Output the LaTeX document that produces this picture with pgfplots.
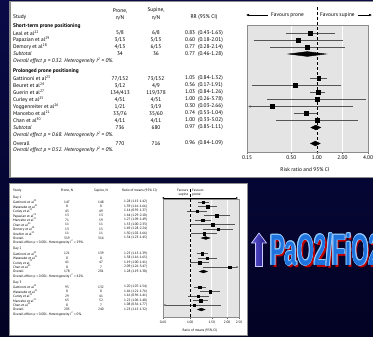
\documentclass[border=0pt]{standalone}
\usepackage{pgfplots}
\pgfplotsset{compat=1.18}
\usepackage{fontspec}
\setmainfont{PT Sans}
\newfontfamily\bigfont{Liberation Sans}
\usetikzlibrary{arrows.meta}
\definecolor{bgtop}{RGB}{10,10,72}
\definecolor{bgbot}{RGB}{3,3,36}
\definecolor{boxgray}{RGB}{228,228,228}
\definecolor{cigray}{RGB}{85,85,85}
\definecolor{txtblue}{RGB}{30,115,222}
\definecolor{txtedge}{RGB}{150,205,255}
\definecolor{txtred}{RGB}{190,0,0}
\definecolor{arrL}{RGB}{95,85,215}
\definecolor{arrR}{RGB}{30,25,130}
\newcommand\ft{\fontsize{5.4}{6}\selectfont}
\newcommand\fs{\fontsize{3.4}{4}\selectfont}
\newcommand\sups[1]{\textsuperscript{#1}}
\newcommand\bigtxt{\bigfont\bfseries\fontsize{44}{44}\selectfont}
\newcommand\trow[5]{\node[anchor=west] at (13,#1) {#2}; \node at (120,#1) {#3}; \node at (156,#1) {#4}; \node[anchor=west] at (185,#1) {#5};}
\newcommand\brow[5]{\node[anchor=west] at (13,#1) {#2}; \node at (67,#1) {#3}; \node at (101,#1) {#4}; \node[anchor=west] at (124,#1) {#5};}
\begin{document}
\begin{tikzpicture}[x=1bp,y=-1bp]
\useasboundingbox (0,0) rectangle (373,337);
\clip (0,0) rectangle (373,337);
\shade[top color=bgtop,bottom color=bgbot] (0,0) rectangle (373,337);
% panels
\draw[black!45, line width=1.6bp, fill=white] (9.8,1.3) rectangle (380,177.5);
\draw[black!45, line width=0.8bp, fill=white] (9.8,183.4) rectangle (247.5,335.6);

% ---------- top forest plot ----------
\begin{scope}[x=1cm,y=1cm]
\begin{axis}[scale only axis, xmode=log, y dir=reverse, ytick=\empty,
  axis line style={draw=black!45, line width=0.5bp},
  axis background/.style={fill=boxgray},
  xmajorgrids=true, major grid style={white, line width=0.6bp},
  tick align=outside, xtick pos=left, major tick length=2bp,
  tick style={black!60, line width=0.4bp}, clip=false,
  at={(247bp,-152bp)}, anchor=south west, width=121bp, height=127bp,
  xmin=0.15, xmax=4, ymin=25, ymax=152,
  xtick={0.15,0.5,1,2,4}, xticklabels={0.15,0.50,1.00,2.00,4.00},
  xticklabel style={font=\ft, inner sep=1.5bp}]
\addplot[cigray, line width=0.5bp, unbounded coords=jump] coordinates {
 (0.43,33) (1.63,33) (nan,nan)
 (0.18,40) (2.01,40) (nan,nan)
 (0.28,47) (2.14,47) (nan,nan)
 (0.84,78.5) (1.32,78.5) (nan,nan)
 (0.17,85.5) (1.91,85.5) (nan,nan)
 (0.84,92.5) (1.26,92.5) (nan,nan)
 (0.26,99.5) (3.78,99.5) (nan,nan)
 (0.53,113.5) (1.04,113.5) (nan,nan)
 (0.33,120.5) (3.02,120.5)};
\addplot[cigray, line width=0.5bp, -{Latex[length=2.5bp,width=2.6bp]}] coordinates {(2.66,106.5) (0.155,106.5)};
\addplot[only marks, mark=square*, mark size=1.9bp, black] coordinates {
 (0.83,33) (0.60,40) (0.77,47) (1.05,78.5) (0.56,85.5) (1.03,92.5) (1.00,99.5) (0.30,106.5) (0.74,113.5) (1.00,120.5)};
\addplot[fill=black, draw=black] coordinates {(0.46,54) (0.77,51.6) (1.28,54) (0.77,56.4)} -- cycle;
\addplot[fill=black, draw=black] coordinates {(0.85,127.5) (0.97,125.1) (1.11,127.5) (0.97,129.9)} -- cycle;
\addplot[fill=black, draw=black] coordinates {(0.84,143.5) (0.96,141.1) (1.09,143.5) (0.96,145.9)} -- cycle;
\end{axis}
\end{scope}
\draw[densely dashed, line width=0.45bp] (317,7) -- (317,152);
\draw[line width=0.45bp, -{Latex[length=3bp,width=2.6bp]}] (268,15) -- (246,15);
\draw[line width=0.45bp, -{Latex[length=3bp,width=2.6bp]}] (358,15) -- (372,15);

\begin{scope}[every node/.style={inner sep=0pt, font=\ft}]
\node[anchor=west] at (271,15) {Favours prone};
\node[anchor=west] at (320,15) {Favours supine};
\node at (305,170) {Risk ratio and 95\% CI};
\node[anchor=west] at (13,17.5) {Study};
\node at (120,10.5) {Prone,}; \node at (120,17.5) {n/N};
\node at (156,10.5) {Supine,}; \node at (156,17.5) {n/N};
\node at (204,17.5) {RR (95\% CI)};
\node[anchor=west, font=\ft\bfseries] at (13,26) {Short-term prone positioning};
\trow{33}{Leal et al\sups{22}}{5/8}{6/8}{0.83\ \ (0.43-1.63)}
\trow{40}{Papazian et al\sups{29}}{3/13}{5/13}{0.60\ \ (0.18-2.01)}
\trow{47}{Demory et al\sups{28}}{4/13}{6/15}{0.77\ \ (0.28-2.14)}
\trow{54}{\itshape Subtotal}{34}{36}{0.77\ \ (0.46-1.28)}
\node[anchor=west, font=\ft\itshape] at (13,61) {Overall effect p = 0.32. Heterogeneity I\sups{2} = 0\%.};
\node[anchor=west, font=\ft\bfseries] at (13,71.5) {Prolonged prone positioning};
\trow{78.5}{Gattinoni et al\sups{23}}{77/152}{73/152}{1.05\ \ (0.84-1.32)}
\trow{85.5}{Beuret et al\sups{24}}{3/12}{4/9}{0.56\ \ (0.17-1.91)}
\trow{92.5}{Guerin et al\sups{27}}{134/413}{119/378}{1.03\ \ (0.84-1.26)}
\trow{99.5}{Curley et al\sups{25}}{4/51}{4/51}{1.00\ \ (0.26-3.78)}
\trow{106.5}{Voggenreiter et al\sups{26}}{1/21}{3/19}{0.30\ \ (0.03-2.66)}
\trow{113.5}{Mancebo et al\sups{21}}{33/76}{35/60}{0.74\ \ (0.53-1.04)}
\trow{120.5}{Chan et al\sups{30}}{4/11}{4/11}{1.00\ \ (0.33-3.02)}
\trow{127.5}{\itshape Subtotal}{736}{680}{0.97\ \ (0.85-1.11)}
\node[anchor=west, font=\ft\itshape] at (13,134.5) {Overall effect p = 0.68. Heterogeneity I\sups{2} = 0\%.};
\trow{143.5}{Overall}{770}{716}{0.96\ \ (0.84-1.09)}
\node[anchor=west, font=\ft\itshape] at (13,150) {Overall effect p = 0.52. Heterogeneity I\sups{2} = 0\%.};
\end{scope}

% ---------- bottom forest plot ----------
\begin{scope}[x=1cm,y=1cm]
\begin{axis}[scale only axis, xmode=log, y dir=reverse, ytick=\empty,
  axis line style={draw=black!45, line width=0.5bp},
  axis background/.style={fill=boxgray},
  xmajorgrids=true, major grid style={white, line width=0.6bp},
  tick align=outside, xtick pos=left, major tick length=1.5bp,
  tick style={black!60, line width=0.4bp}, clip=false,
  at={(163bp,-317.5bp)}, anchor=south west, width=76bp, height=118bp,
  xmin=0.6, xmax=2.5, ymin=199.5, ymax=317.5,
  xtick={0.6,1,1.5,2,2.5}, xticklabels={0.60,1.00,1.50,2.00,2.50},
  xticklabel style={font=\fs, inner sep=1.5bp}]
\addplot[cigray, line width=0.4bp, unbounded coords=jump] coordinates {
 (1.15,202) (1.42,202) (nan,nan)
 (1.16,206.5) (1.66,206.5) (nan,nan)
 (0.95,211) (1.37,211) (nan,nan)
 (1.29,215.5) (2.10,215.5) (nan,nan)
 (1.09,220) (1.49,220) (nan,nan)
 (1.00,224.5) (2.33,224.5) (nan,nan)
 (1.28,229) (2.24,229) (nan,nan)
 (1.02,233.5) (1.66,233.5) (nan,nan)
 (1.13,253.5) (1.39,253.5) (nan,nan)
 (1.16,258) (1.65,258) (nan,nan)
 (1.00,262.5) (1.41,262.5) (nan,nan)
 (1.07,287) (1.34,287) (nan,nan)
 (1.21,291.5) (1.76,291.5) (nan,nan)
 (0.96,296) (1.41,296) (nan,nan)
 (1.06,300.5) (1.40,300.5)};
\addplot[cigray, line width=0.4bp, -{Latex[length=2bp,width=2bp]}] coordinates {(1.26,267) (2.48,267)};
\addplot[cigray, line width=0.4bp, -{Latex[length=2bp,width=2bp]}] coordinates {(1.77,305) (0.605,305)};
\addplot[only marks, mark=square*, mark size=1.3bp, black] coordinates {
 (1.28,202) (1.39,206.5) (1.14,211) (1.64,215.5) (1.27,220) (1.53,224.5) (1.69,229) (1.30,233.5)
 (1.25,253.5) (1.38,258) (1.19,262.5) (2.09,267)
 (1.20,287) (1.46,291.5) (1.16,296) (1.22,300.5) (1.08,305)};
\addplot[fill=black, draw=black] coordinates {(1.23,238) (1.34,236.6) (1.45,238) (1.34,239.4)} -- cycle;
\addplot[fill=black, draw=black] coordinates {(1.19,271.5) (1.28,270.1) (1.38,271.5) (1.28,272.9)} -- cycle;
\addplot[fill=black, draw=black] coordinates {(1.15,309.5) (1.23,308.1) (1.32,309.5) (1.23,310.9)} -- cycle;
\end{axis}
\end{scope}
\draw[densely dashed, line width=0.35bp] (190.2,189) -- (190.2,317.5);
\draw[line width=0.35bp, {Latex[length=2bp,width=1.8bp]}-{Latex[length=2bp,width=1.8bp]}] (162,198) -- (238,198);

\begin{scope}[every node/.style={inner sep=0pt, font=\fs}]
\node[anchor=east] at (188.5,190.5) {Favours};
\node[anchor=east] at (188.5,194.5) {supine};
\node[anchor=west] at (192,190.5) {Favours};
\node[anchor=west] at (192,194.5) {prone};
\node at (200,331) {Ratio of means (95\% CI)};
\node[anchor=west] at (13,190.5) {Study};
\node at (67,190.5) {Prone, N};
\node at (101,190.5) {Supine, N};
\node[anchor=west] at (122,190.5) {Ratio of means (95\% CI)};
\node[anchor=west] at (13,197.5) {Day 1};
\brow{202}{Gattinoni et al\sups{23}}{147}{148}{1.28\ (1.15-1.42)}
\brow{206.5}{Watanabe et al\sups{31}}{8}{8}{1.39\ (1.16-1.66)}
\brow{211}{Curley et al\sups{25}}{45}{49}{1.14\ (0.95-1.37)}
\brow{215.5}{Papazian et al\sups{29}}{13}{13}{1.64\ (1.29-2.10)}
\brow{220}{Mancebo et al\sups{21}}{71}{59}{1.27\ (1.09-1.49)}
\brow{224.5}{Chan et al\sups{30}}{11}{11}{1.53\ (1.00-2.33)}
\brow{229}{Demory et al\sups{28}}{13}{15}{1.69\ (1.28-2.24)}
\brow{233.5}{Ibrahim et al\sups{32}}{11}{11}{1.30\ (1.02-1.66)}
\brow{238}{Overall}{319}{314}{1.34\ (1.23-1.45)}
\node[anchor=west] at (13,242.5) {Overall effect p < 0.001. Heterogeneity I\sups{2} = 29\%.};
\node[anchor=west] at (13,249) {Day 2};
\brow{253.5}{Gattinoni et al\sups{23}}{121}{139}{1.25\ (1.13-1.39)}
\brow{258}{Watanabe et al\sups{31}}{8}{8}{1.38\ (1.16-1.65)}
\brow{262.5}{Curley et al\sups{25}}{41}{47}{1.19\ (1.00-1.41)}
\brow{267}{Chan et al\sups{30}}{8}{7}{2.09\ (1.26-3.47)}
\brow{271.5}{Overall}{178}{201}{1.28\ (1.19-1.38)}
\node[anchor=west] at (13,276) {Overall effect p < 0.001. Heterogeneity I\sups{2} = 42\%.};
\node[anchor=west] at (13,282.5) {Day 3};
\brow{287}{Gattinoni et al\sups{23}}{95}{132}{1.20\ (1.07-1.34)}
\brow{291.5}{Watanabe et al\sups{31}}{8}{8}{1.46\ (1.21-1.76)}
\brow{296}{Curley et al\sups{25}}{29}{41}{1.16\ (0.96-1.41)}
\brow{300.5}{Mancebo et al\sups{21}}{65}{52}{1.22\ (1.06-1.40)}
\brow{305}{Chan et al\sups{30}}{8}{7}{1.08\ (0.56-1.77)}
\brow{309.5}{Overall}{205}{240}{1.23\ (1.15-1.32)}
\node[anchor=west] at (13,314) {Overall effect p < 0.001. Heterogeneity I\sups{2} = 0\%.};
\end{scope}

% ---------- right: arrow and PaO2/FiO2 ----------
\shade[left color=arrL, right color=arrR, draw=white!80!blue, line width=0.7bp]
  (259,233) -- (266.5,243) -- (262.5,243) -- (262.5,266.5) -- (255.5,266.5) -- (255.5,243) -- (251.5,243) -- cycle;
\begin{scope}[every node/.style={inner sep=0pt, anchor=base west}]
\node[text=txtred] at (272,267) {\scalebox{0.5}[1]{\bigtxt PaO2/FiO2}};
\foreach \dx/\dy in {-0.8/0,0.8/0,0/-0.8,0/0.8,-0.6/-0.6,0.6/0.6,-0.6/0.6,0.6/-0.6}
  \node[text=txtedge] at (270+\dx,265+\dy) {\scalebox{0.5}[1]{\bigtxt PaO2/FiO2}};
\node[text=txtblue] at (270,265) {\scalebox{0.5}[1]{\bigtxt PaO2/FiO2}};
\end{scope}
\end{tikzpicture}
\end{document}
